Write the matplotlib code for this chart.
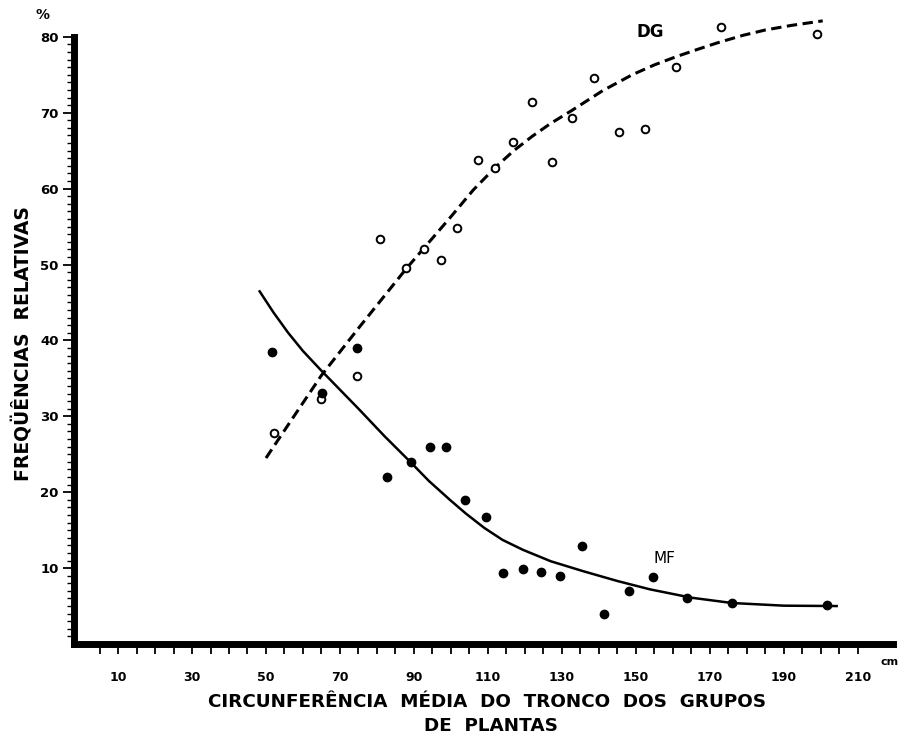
import numpy as np
import matplotlib.pyplot as plt
import matplotlib

matplotlib.rcParams.update({'font.family': 'DejaVu Sans', 'font.weight': 'bold'})

# DG - open circles
dg_x = [52.2, 64.9, 74.6, 80.8, 87.8, 92.7, 97.3, 101.6, 107.3, 111.9, 116.8,
        121.9, 127.3, 132.7, 138.6, 145.4, 152.4, 160.8, 173.0, 198.9]
dg_y = [27.8, 32.3, 35.3, 53.4, 49.5, 52.0, 50.6, 54.8, 63.8, 62.7, 66.1,
        71.4, 63.5, 69.3, 74.6, 67.5, 67.9, 76.0, 81.3, 80.4]

# MF - filled dots
mf_x = [51.6, 65.1, 74.6, 82.7, 89.2, 94.3, 98.6, 103.8, 109.5, 114.1, 119.5,
        124.3, 129.5, 135.4, 141.4, 148.1, 154.6, 163.8, 176.0, 201.6]
mf_y = [38.5, 33.1, 39.0, 22.0, 24.0, 26.0, 26.0, 19.0, 16.7, 9.4, 9.9,
        9.5, 9.0, 12.9, 4.0, 7.0, 8.8, 6.1, 5.4, 5.1]

# fitted curves
dg_cx = [50.0, 57.0, 65.0, 75.0, 88.0, 100.0, 106.0, 112.0, 117.0, 122.0,
         127.0, 132.7, 141.0, 149.0, 155.0, 161.0, 167.0, 172.0, 179.0,
         185.0, 192.0, 200.5]
dg_cy = [24.5, 29.6, 35.4, 41.6, 49.5, 56.3, 59.8, 62.8, 65.0, 66.9,
         68.6, 70.3, 72.9, 75.0, 76.3, 77.4, 78.4, 79.2, 80.2,
         80.9, 81.5, 82.1]
mf_cx = [48.1, 52.0, 56.0, 60.0, 65.0, 70.0, 75.0, 82.0, 89.0, 94.0,
         99.7, 104.0, 109.0, 114.0, 119.5, 127.0, 135.7, 145.0, 153.8,
         165.0, 176.0, 190.0, 204.6]
mf_cy = [46.6, 43.7, 41.0, 38.6, 36.0, 33.5, 31.0, 27.4, 24.0, 21.5,
         19.0, 17.2, 15.3, 13.7, 12.4, 10.9, 9.6, 8.3, 7.2,
         6.1, 5.4, 5.05, 5.0]

xticks = list(range(5, 215, 5))
xlabels = [str(v) if (v - 10) % 20 == 0 else '' for v in xticks]
yticks = [10, 20, 30, 40, 50, 60, 70, 80]

fig = plt.figure(figsize=(9.02, 7.38), dpi=100)
ax = fig.add_axes([74 / 902, 94 / 738, (893 - 74) / 902, 84 * 7.59 / 738])
ax.set_xlim(-1.9, 219.5)
ax.set_ylim(0, 84)

ax.plot(dg_cx, dg_cy, color='black', lw=2.2, ls=(0, (3.4, 1.8)), zorder=2)
ax.plot(mf_cx, mf_cy, color='black', lw=1.8, solid_capstyle='butt', zorder=2)
ax.plot(dg_x, dg_y, 'o', ms=5.5, mfc='white', mec='black', mew=1.4, zorder=3, clip_on=False)
ax.plot(mf_x, mf_y, 'o', ms=6, color='black', zorder=3, clip_on=False)

ax.text(154, 80.6, 'DG', fontsize=12, ha='center', va='center')
ax.text(157.8, 11.3, 'MF', fontsize=11, fontweight='normal', ha='center', va='center')

for side in ['top', 'right']:
    ax.spines[side].set_visible(False)
ax.spines['left'].set_linewidth(5)
ax.spines['bottom'].set_linewidth(5)
ax.spines['left'].set_bounds(0, 80)
ax.spines['left'].set_capstyle('projecting')
ax.spines['bottom'].set_capstyle('projecting')

ax.set_xticks(xticks)
ax.set_xticklabels(xlabels, fontsize=9)
ax.set_yticks(yticks)
ax.set_yticklabels([str(v) for v in yticks], fontsize=9.5)
ax.set_yticks(np.arange(1, 80, 1), minor=True)
# spine is thick, so ticks need extra length to show past it
ax.tick_params(axis='x', direction='out', length=7.5, width=1.3, pad=12)
ax.tick_params(axis='y', which='major', direction='out', length=8, width=1.3, pad=3)
ax.tick_params(axis='y', which='minor', direction='out', length=5, width=1.0)

ax.text(216, -2.4, 'cm', fontsize=8, ha='left', va='center', clip_on=False)
ax.text(-10.5, 82.9, '%', fontsize=10, ha='center', va='center', clip_on=False)

fig.text(22 / 902, 1 - 344 / 738, 'FREQÜÊNCIAS  RELATIVAS', rotation=90,
         fontsize=13.5, ha='center', va='center')
fig.text(487 / 902, 1 - 702 / 738, 'CIRCUNFERÊNCIA  MÉDIA  DO  TRONCO  DOS  GRUPOS',
         fontsize=13.2, ha='center', va='center')
fig.text(491 / 902, 1 - 726 / 738, 'DE  PLANTAS', fontsize=13.2, ha='center', va='center')

fig.savefig('out.png', dpi=100)
